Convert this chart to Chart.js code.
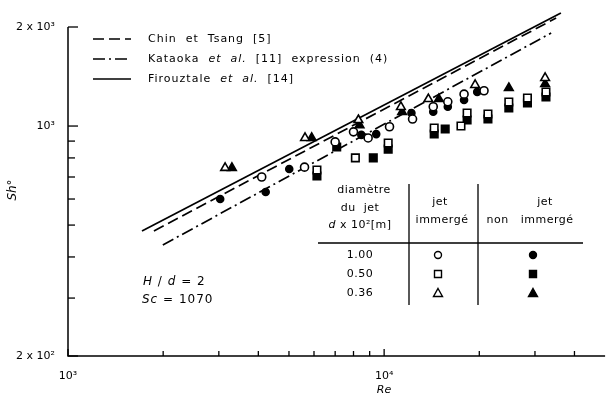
<!DOCTYPE html>
<html>
<head>
<meta charset="utf-8">
<script src="https://cdn.jsdelivr.net/npm/chart.js@4.4.1/dist/chart.umd.min.js"></script>
<style>
  html, body { margin: 0; padding: 0; background: #fff; }
</style>
</head>
<body>
<canvas id="shChart" width="612" height="397"></canvas>
<script>
// values (Re, Sh°), log-log
// d = 1.00 cm
const reOpenCircle = [4100, 5600, 7000, 8000, 8900, 10400, 12300, 14300, 15900, 17900, 20700];
const shOpenCircle = [700, 750, 895, 960, 920, 995, 1050, 1145, 1185, 1250, 1280];
const reFullCircle = [3030, 4220, 5010, 8470, 9440, 12200, 14300, 15900, 17900, 19700];
const shFullCircle = [600, 630, 740, 940, 945, 1095, 1105, 1145, 1200, 1270];
// d = 0.50 cm
const reOpenSquare = [6130, 8110, 10300, 14400, 17500, 18300, 21300, 24800, 28400, 32500];
const shOpenSquare = [735, 800, 888, 986, 1000, 1095, 1088, 1183, 1217, 1269];
const reFullSquare = [6130, 7080, 9240, 10300, 14400, 15600, 18300, 21300, 24800, 28400, 32500];
const shFullSquare = [705, 864, 800, 851, 946, 979, 1043, 1050, 1134, 1175, 1225];
// d = 0.36 cm
const reOpenTri = [3140, 5620, 8290, 11300, 13800, 19400, 32300];
const shOpenTri = [746, 920, 1043, 1143, 1208, 1333, 1400];
const reFullTri = [3300, 5900, 8360, 11400, 14900, 24800, 32300];
const shFullTri = [746, 920, 1006, 1103, 1208, 1305, 1342];

// correlations (straight lines in log-log)
const reChin = [1870, 35000];
const shChin = [480, 2130];
const reKataoka = [1995, 33750];
const shKataoka = [435, 1918];
const reFirouz = [1714, 36240];
const shFirouz = [480, 2206];

const xTickVals = [1000, 2000, 3000, 4000, 5000, 6000, 7000, 8000, 9000, 10000, 20000, 30000, 40000];
const xTickLabels = {1000: '10³', 10000: '10⁴'};
const yTickVals = [200, 300, 400, 500, 600, 700, 800, 900, 1000, 2000];
const yTickLabels = {200: '2 x 10²', 1000: '10³', 2000: '2 x 10³'};

const toXY = (xs, ys) => xs.map((v, i) => ({x: v, y: ys[i]}));

function pointSet(label, xs, ys, style, filled, r) {
    return {
        label: label,
        data: toXY(xs, ys),
        pointStyle: style,
        pointRadius: r,
        pointBorderWidth: 1.6,
        pointBorderColor: '#000',
        pointBackgroundColor: filled ? '#000' : '#fff',
        showLine: false
    };
}

function lineSet(label, xs, ys, dash) {
    return {
        label: label,
        data: toXY(xs, ys),
        showLine: true,
        borderColor: '#000',
        borderWidth: 1.7,
        borderDash: dash,
        pointRadius: 0,
        clip: false
    };
}

const FONT = '"DejaVu Sans", sans-serif';

function drawRuns(ctx, x, y, runs, size, align) {
    // runs: [text, italic]
    ctx.textBaseline = 'middle';
    ctx.textAlign = 'left';
    let total = 0;
    runs.forEach(r => {
        ctx.font = (r[1] ? 'italic ' : '') + size + 'px ' + FONT;
        total += ctx.measureText(r[0]).width;
    });
    let cx = x;
    if (align === 'center') cx = x - total / 2;
    if (align === 'right') cx = x - total;
    runs.forEach(r => {
        ctx.font = (r[1] ? 'italic ' : '') + size + 'px ' + FONT;
        ctx.fillText(r[0], cx, y);
        cx += ctx.measureText(r[0]).width;
    });
}

function drawSym(ctx, kind, filled, x, y) {
    ctx.beginPath();
    if (kind === 'circle') ctx.arc(x, y, 3.5, 0, Math.PI * 2);
    if (kind === 'rect') ctx.rect(x - 3.5, y - 3.5, 7, 7);
    if (kind === 'triangle') { ctx.moveTo(x, y - 4.5); ctx.lineTo(x + 4.5, y + 3.5); ctx.lineTo(x - 4.5, y + 3.5); ctx.closePath(); }
    ctx.fillStyle = filled ? '#000' : '#fff';
    ctx.fill();
    ctx.stroke();
}

const paperPlugin = {
    id: 'paper',
    afterDraw(chart) {
        const {ctx, chartArea: a, scales: {x, y}} = chart;
        ctx.save();
        ctx.strokeStyle = '#000';
        ctx.fillStyle = '#000';
        ctx.lineWidth = 1.5;

        // axes
        ctx.beginPath();
        ctx.moveTo(a.left, a.top);
        ctx.lineTo(a.left, a.bottom);
        ctx.lineTo(a.right, a.bottom);
        ctx.stroke();

        // inward ticks
        ctx.lineWidth = 1.3;
        xTickVals.forEach(v => {
            const px = x.getPixelForValue(v);
            const len = xTickLabels[v] ? 7 : 5;
            ctx.beginPath(); ctx.moveTo(px, a.bottom); ctx.lineTo(px, a.bottom - len); ctx.stroke();
        });
        yTickVals.forEach(v => {
            const py = y.getPixelForValue(v);
            const len = yTickLabels[v] ? 10 : 7;
            ctx.beginPath(); ctx.moveTo(a.left, py); ctx.lineTo(a.left + len, py); ctx.stroke();
        });

        // legend for the three correlations
        ctx.letterSpacing = '1px';
        const lines = chart.data.datasets.filter(d => d.showLine);
        const legendRuns = [
            [['Chin  et  Tsang  [5]', false]],
            [['Kataoka  ', false], ['et  al.', true], ['  [11]  expression  (4)', false]],
            [['Firouztale  ', false], ['et  al.', true], ['  [14]', false]]
        ];
        lines.forEach((d, i) => {
            const ly = 39 + i * 20;
            ctx.setLineDash(d.borderDash || []);
            ctx.lineWidth = 1.7;
            ctx.beginPath(); ctx.moveTo(93, ly); ctx.lineTo(131, ly); ctx.stroke();
            ctx.setLineDash([]);
            drawRuns(ctx, 148, ly, legendRuns[i], 11, 'left');
        });

        // conditions
        drawRuns(ctx, 143, 282, [['H', true], [' / ', false], ['d', true], [' = 2', false]], 12, 'left');
        drawRuns(ctx, 142, 300, [['Sc', true], [' = 1070', false]], 12, 'left');

        // symbol table
        ctx.letterSpacing = '0.5px';
        drawRuns(ctx, 364, 190, [['diamètre', false]], 11, 'center');
        drawRuns(ctx, 360, 208, [['du  jet', false]], 11, 'center');
        drawRuns(ctx, 360, 225, [['d', true], [' x 10²[m]', false]], 11, 'center');
        drawRuns(ctx, 440, 202, [['jet', false]], 11, 'center');
        drawRuns(ctx, 442, 220, [['immergé', false]], 11, 'center');
        drawRuns(ctx, 545, 202, [['jet', false]], 11, 'center');
        drawRuns(ctx, 530, 220, [['non   immergé', false]], 11, 'center');
        ctx.lineWidth = 1.3;
        ctx.beginPath();
        ctx.moveTo(409, 184); ctx.lineTo(409, 305);
        ctx.moveTo(478, 184); ctx.lineTo(478, 305);
        ctx.moveTo(318, 243); ctx.lineTo(583, 243);
        ctx.stroke();
        const rows = [['1.00', 'circle'], ['0.50', 'rect'], ['0.36', 'triangle']];
        rows.forEach((r, i) => {
            const ry = 255 + i * 19;
            drawRuns(ctx, 360, ry, [[r[0], false]], 11, 'center');
            ctx.lineWidth = 1.4;
            drawSym(ctx, r[1], false, 438, ry);
            drawSym(ctx, r[1], true, 533, ry);
        });

        // axis titles
        ctx.letterSpacing = '0px';
        drawRuns(ctx, 384, 390, [['Re', true]], 11, 'center');
        ctx.translate(13, 190);
        ctx.rotate(-Math.PI / 2);
        drawRuns(ctx, 0, 0, [['Sh°', true]], 12, 'center');
        ctx.restore();
    }
};

const ctx = document.getElementById('shChart').getContext('2d');
const shChart = new Chart(ctx, {
    type: 'scatter',
    data: {
        datasets: [
            pointSet('1.00 immergé', reOpenCircle, shOpenCircle, 'circle', false, 4),
            pointSet('1.00 non immergé', reFullCircle, shFullCircle, 'circle', true, 3.5),
            pointSet('0.50 immergé', reOpenSquare, shOpenSquare, 'rect', false, 5.3),
            pointSet('0.50 non immergé', reFullSquare, shFullSquare, 'rect', true, 5.3),
            pointSet('0.36 immergé', reOpenTri, shOpenTri, 'triangle', false, 5),
            pointSet('0.36 non immergé', reFullTri, shFullTri, 'triangle', true, 5),
            lineSet('Chin et Tsang [5]', reChin, shChin, [11, 5]),
            lineSet('Kataoka et al. [11] expression (4)', reKataoka, shKataoka, [12, 4, 2, 4]),
            lineSet('Firouztale et al. [14]', reFirouz, shFirouz, [])
        ]
    },
    options: {
        responsive: false,
        animation: false,
        layout: { padding: { top: 27, right: 0, bottom: 0, left: 0 } },
        plugins: { legend: { display: false }, tooltip: { enabled: false } },
        scales: {
            x: {
                type: 'logarithmic',
                min: 1000,
                max: 50000,
                grid: { display: false },
                border: { display: false },
                afterBuildTicks: s => { s.ticks = xTickVals.map(v => ({value: v})); },
                afterFit: s => { s.height = 41; },
                ticks: {
                    autoSkip: false,
                    maxRotation: 0,
                    padding: 6,
                    color: '#000',
                    font: { family: FONT, size: 11 },
                    callback: v => xTickLabels[v] || ''
                }
            },
            y: {
                type: 'logarithmic',
                min: 200,
                max: 2000,
                grid: { display: false },
                border: { display: false },
                afterBuildTicks: s => { s.ticks = yTickVals.map(v => ({value: v})); },
                afterFit: s => { s.width = 68; },
                ticks: {
                    autoSkip: false,
                    padding: 5,
                    color: '#000',
                    font: { family: FONT, size: 11 },
                    callback: v => yTickLabels[v] || ''
                }
            }
        }
    },
    plugins: [paperPlugin]
});
</script>
</body>
</html>
